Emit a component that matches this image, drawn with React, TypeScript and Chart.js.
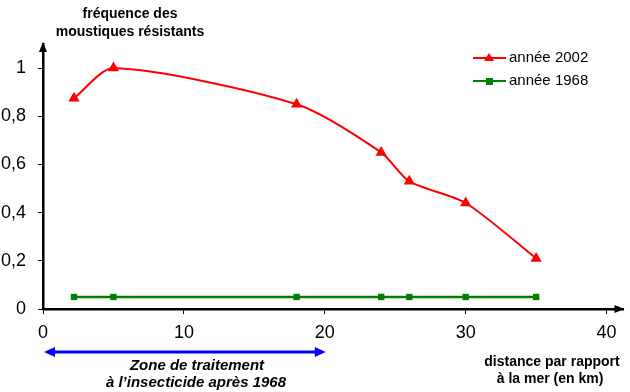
import React, { useEffect, useRef } from "react";
import { Chart, registerables } from "chart.js";

Chart.register(...registerables);

const distances = [2.2, 5, 18, 24, 26, 30, 35];
const freq2002 = [0.875, 1.0, 0.85, 0.65, 0.53, 0.44, 0.21];
const freq1968 = [0.05, 0.05, 0.05, 0.05, 0.05, 0.05, 0.05];
const xTicks = [0, 10, 20, 30, 40];
const yTicks = [0, 0.2, 0.4, 0.6, 0.8, 1];
const yTickLabels = ["0", "0,2", "0,4", "0,6", "0,8", "1"];
const seriesNames = ["année 2002", "année 1968"];
const yTitle = ["fréquence des", "moustiques résistants"];
const xTitle = ["distance par rapport", "à la mer (en km)"];
const zoneText = ["Zone de traitement", "à l’insecticide après 1968"];
const zoneRange = [0, 20];

const FONT = "'Liberation Sans', Arial, sans-serif";
const RED = "#ff0000";
const GREEN = "#008000";
const BLUE = "#0000ff";

const decorPlugin = {
  id: "decor",
  afterDraw(chart: any) {
    const ctx = chart.ctx as CanvasRenderingContext2D;
    const xs = chart.scales.x;
    const ys = chart.scales.y;
    const area = chart.chartArea;
    const x0 = xs.getPixelForValue(0);
    const y0 = ys.getPixelForValue(0);
    ctx.save();
    // axis arrows
    ctx.fillStyle = "#000";
    ctx.beginPath();
    ctx.moveTo(x0, area.top - 2);
    ctx.lineTo(x0 - 4, area.top + 8);
    ctx.lineTo(x0 + 4, area.top + 8);
    ctx.closePath();
    ctx.fill();
    ctx.beginPath();
    ctx.moveTo(area.right + 1, y0);
    ctx.lineTo(area.right - 9, y0 - 4);
    ctx.lineTo(area.right - 9, y0 + 4);
    ctx.closePath();
    ctx.fill();

    // y title
    ctx.fillStyle = "#000";
    ctx.textAlign = "center";
    ctx.textBaseline = "middle";
    ctx.font = `bold 14px ${FONT}`;
    ctx.fillText(yTitle[0], 130, 14);
    ctx.fillText(yTitle[1], 130, 32);

    // x title
    ctx.fillText(xTitle[0], 552, 362);
    ctx.fillText(xTitle[1], 550, 379);

    // blue arrow
    const ax1 = xs.getPixelForValue(zoneRange[0]) + 1;
    const ax2 = xs.getPixelForValue(zoneRange[1]) + 1;
    const ay = 352;
    ctx.strokeStyle = BLUE;
    ctx.fillStyle = BLUE;
    ctx.lineWidth = 3;
    ctx.beginPath();
    ctx.moveTo(ax1 + 8, ay);
    ctx.lineTo(ax2 - 8, ay);
    ctx.stroke();
    ctx.beginPath();
    ctx.moveTo(ax1, ay);
    ctx.lineTo(ax1 + 11, ay - 5);
    ctx.lineTo(ax1 + 11, ay + 5);
    ctx.closePath();
    ctx.fill();
    ctx.beginPath();
    ctx.moveTo(ax2, ay);
    ctx.lineTo(ax2 - 11, ay - 5);
    ctx.lineTo(ax2 - 11, ay + 5);
    ctx.closePath();
    ctx.fill();

    ctx.fillStyle = "#000";
    ctx.font = `italic bold 15px ${FONT}`;
    ctx.fillText(zoneText[0], 197, 366);
    ctx.fillText(zoneText[1], 196, 383);

    // legend
    const items = [
      { name: seriesNames[0], color: RED, y: 58, marker: "tri" },
      { name: seriesNames[1], color: GREEN, y: 81, marker: "sq" },
    ];
    for (const it of items) {
      ctx.strokeStyle = it.color;
      ctx.fillStyle = it.color;
      ctx.lineWidth = 2;
      ctx.beginPath();
      ctx.moveTo(473, it.y);
      ctx.lineTo(506, it.y);
      ctx.stroke();
      if (it.marker === "tri") {
        ctx.beginPath();
        ctx.moveTo(489, it.y - 5);
        ctx.lineTo(484, it.y + 3);
        ctx.lineTo(494, it.y + 3);
        ctx.closePath();
        ctx.fill();
      } else {
        ctx.fillRect(486, it.y - 3, 7, 7);
      }
      ctx.fillStyle = "#000";
      ctx.textAlign = "left";
      ctx.font = `15px ${FONT}`;
      ctx.fillText(it.name, 509, it.y);
    }
    ctx.restore();
  },
};

export default function App() {
  const ref = useRef<HTMLCanvasElement>(null);
  useEffect(() => {
    const canvas = ref.current;
    if (!canvas) return;
    const chart = new Chart(canvas, {
      type: "line",
      data: {
        datasets: [
          {
            label: seriesNames[1],
            data: distances.map((d, i) => ({ x: d, y: freq1968[i] })),
            borderColor: GREEN,
            backgroundColor: GREEN,
            borderWidth: 2.5,
            pointStyle: "rect",
            pointRadius: 4.5,
            pointBorderWidth: 0,
            tension: 0,
            clip: false as any,
          },
          {
            label: seriesNames[0],
            data: distances.map((d, i) => ({ x: d, y: freq2002[i] })),
            borderColor: RED,
            backgroundColor: RED,
            borderWidth: 2,
            pointStyle: "triangle",
            pointRadius: 6.5,
            pointBorderWidth: 0,
            tension: 0.25,
            cubicInterpolationMode: "default",
            clip: false as any,
          },
        ],
      },
      options: {
        animation: false,
        responsive: false,
        maintainAspectRatio: false,
        layout: { padding: { top: 44, right: 5, left: 0, bottom: 0 } },
        plugins: {
          legend: { display: false },
          tooltip: { enabled: false },
          title: { display: false },
        },
        scales: {
          x: {
            type: "linear",
            min: 0,
            max: 41.2,
            afterBuildTicks: (s: any) => {
              s.ticks = xTicks.map((v) => ({ value: v }));
            },
            afterFit: (s: any) => {
              s.height = 83;
            },
            grid: {
              display: true,
              drawOnChartArea: false,
              drawTicks: true,
              tickLength: 5,
              color: "#000",
              lineWidth: 1,
            },
            border: { display: true, color: "#000", width: 2.5 },
            ticks: {
              color: "#000",
              font: { family: FONT, size: 18 },
              padding: 8,
              maxRotation: 0,
              autoSkip: false,
            },
          },
          y: {
            type: "linear",
            min: 0,
            max: 1.1,
            afterBuildTicks: (s: any) => {
              s.ticks = yTicks.map((v) => ({ value: v }));
            },
            afterFit: (s: any) => {
              s.width = 43;
            },
            grid: {
              display: true,
              drawOnChartArea: false,
              drawTicks: true,
              tickLength: 5,
              color: "#000",
              lineWidth: 1,
            },
            border: { display: true, color: "#000", width: 2.5 },
            ticks: {
              color: "#000",
              font: { family: FONT, size: 18 },
              padding: 12,
              autoSkip: false,
              callback: (v: any) => {
                const i = yTicks.findIndex((t) => Math.abs(t - Number(v)) < 1e-6);
                return i >= 0 ? yTickLabels[i] : "";
              },
            },
          },
        },
      },
      plugins: [decorPlugin],
    });
    return () => chart.destroy();
  }, []);
  return (
    <div style={{ position: "absolute", left: 0, top: 0, width: 630, height: 392, background: "#fff" }}>
      <canvas ref={ref} width={630} height={392} style={{ width: 630, height: 392, display: "block" }} />
    </div>
  );
}
